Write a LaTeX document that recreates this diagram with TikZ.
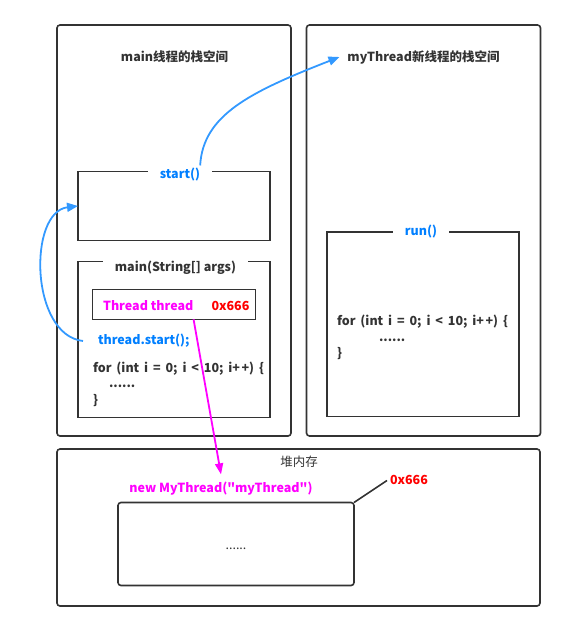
\documentclass[tikz,border=0pt]{standalone}
\usepackage{fontspec}
\setmainfont{Noto Sans CJK SC}[Ligatures=TeXOff]
\usetikzlibrary{arrows.meta,calc}
\definecolor{dk}{HTML}{333333}
\definecolor{blu}{HTML}{007FFF}
\definecolor{arrblu}{HTML}{3399FF}
\definecolor{mag}{HTML}{FF00FF}
\definecolor{rd}{HTML}{FF0000}
\newcommand{\pp}{+\kern1.5pt+}
\newcommand{\codespc}{\spaceskip 4.9pt\relax}
\begin{document}
\begin{tikzpicture}[x=1pt,y=-1pt,
  every node/.style={inner sep=0pt, outer sep=0pt, font=\fontsize{12.5}{14}\selectfont\bfseries, text=dk},
  bx/.style={draw=dk, line width=1.6pt, anchor=north west},
  obox/.style={bx, rounded corners=3pt},
  gaplbl/.style={fill=white, inner xsep=12pt, inner ysep=3pt},
  codeline/.style={anchor=west},
  wide/.style={font=\fontsize{12.5}{14}\selectfont\bfseries\codespc},
  conn/.style={line width=1.8pt, draw=arrblu, -{Triangle[length=11pt,width=9pt]}},
  mconn/.style={line width=1.8pt, draw=mag, -{Triangle[length=11pt,width=8pt]}}
]
\useasboundingbox (0,0) rectangle (565,632);

% outer containers
\node[obox, minimum width=234pt, minimum height=411pt] (mainstack) at (57,25) {};
\node[obox, minimum width=234pt, minimum height=411pt] (newstack) at (306.5,25) {};
\node[obox, minimum width=483pt, minimum height=157pt] (heap) at (57,449) {};

\node (maintitle) at (174.5,57) {main线程的栈空间};
\node (mytitle) at (423.5,57) {myThread新线程的栈空间};

% start() frame
\node[bx, minimum width=192pt, minimum height=69pt] (startbox) at (78,171.5) {};
\node[gaplbl, text=blu] (startlbl) at (180,175) {start()};

% main(...) frame
\node[bx, minimum width=192pt, minimum height=156pt] (mainbox) at (78,261.5) {};
\node[gaplbl] (mainlbl) at (175.5,268) {main(String[] args)};

\node[bx, minimum width=163pt, minimum height=30pt] (threadbox) at (92.5,289.3) {};
\node[codeline, text=mag] (tvar) at (103,305.5) {Thread thread};
\node[codeline, text=rd] (taddr) at (211.5,305.5) {0x666};

\node[codeline, text=blu] (tstart) at (98,341) {thread.start();};
\node[codeline, wide] (forA) at (93,369) {for (int i = 0; i < 10; i\pp) \{};
\node[codeline] (dotsA) at (109,386) {......};
\node[codeline] (closeA) at (93,401) {\}};

% run() frame
\node[bx, minimum width=192pt, minimum height=184.5pt] (runbox) at (327,232) {};
\node[gaplbl, text=blu] (runlbl) at (421,232) {run()};
\node[codeline, wide] (forB) at (337,322) {for (int i = 0; i < 10; i\pp) \{};
\node[codeline] (dotsB) at (379,340.5) {......};
\node[codeline] (closeB) at (337,354) {\}};

% heap
\node[font=\fontsize{12.5}{14}\selectfont] (heaptitle) at (299,462) {堆内存};
\node[text=mag] (newlbl) at (221,489) {new MyThread("myThread")};
\node[obox, minimum width=236pt, minimum height=83pt] (objbox) at (118,502.5) {};
\node[font=\fontsize{12.5}{14}\selectfont] (objdots) at (236,548.5) {......};
\coordinate (lead) at (387,480.5);
\node[anchor=west, text=rd] (objaddr) at (390,480) {0x666};
\draw[dk, line width=1.6pt] (objbox.north east) -- (lead);

% connectors
\draw[conn] ([xshift=-12pt]startlbl.north east) .. controls (203,115) and (250,92) .. ([xshift=-8pt]mytitle.west);
\draw[conn] ([xshift=-15pt]tstart.west) .. controls (30,335) and (28,212) .. (startbox.west);
\draw[mconn] ($(threadbox.south west)!0.62!(threadbox.south east)$) -- ([yshift=8pt]newlbl.north);
\end{tikzpicture}
\end{document}
